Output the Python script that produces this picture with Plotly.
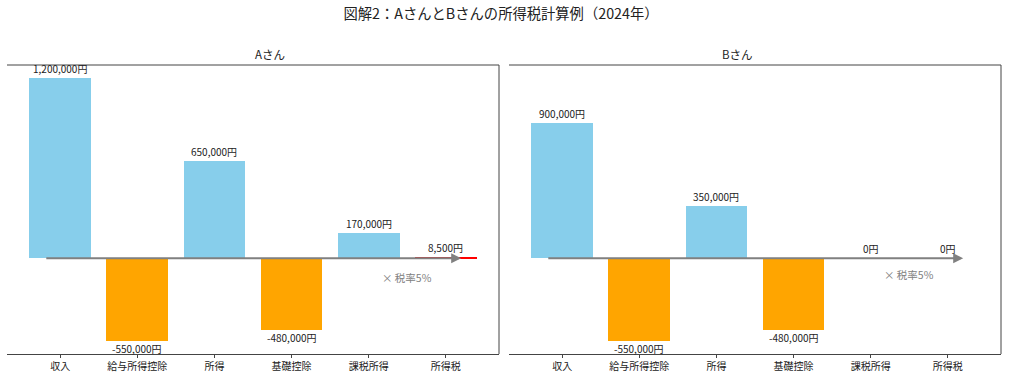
import plotly.graph_objects as go
from plotly.subplots import make_subplots

categories = ["収入", "給与所得控除", "所得", "基礎控除", "課税所得", "所得税"]
values_a = [1200000, -550000, 650000, -480000, 170000, 8500]
values_b = [900000, -550000, 350000, -480000, 0, 0]
bar_kinds = ["in", "ded", "in", "ded", "in", "tax"]
panel_titles = ["Aさん", "Bさん"]
title = "図解2：AさんとBさんの所得税計算例（2024年）"
rate_note = "× 税率5%"

FONT = "Noto Sans CJK JP"
color_map = {"in": "#87CEEB", "ded": "#FFA500", "tax": "#FF0000"}

W, H = 1009, 376


def px_x(X):
    return X / W


def px_y(Y):
    return 1 - Y / H


fig = make_subplots(rows=1, cols=2, horizontal_spacing=0.01)

xdom = [[px_x(7), px_x(499)], [px_x(509), px_x(1001)]]
xranges = [[-0.69, 5.69], [-0.69, 5.69]]
ydom = [px_y(354), px_y(65)]
yrange = [-637500, 1287500]
note_y = [-125000, -105000]

for i, vals in enumerate([values_a, values_b]):
    col = i + 1
    xs = list(range(len(categories)))
    fig.add_trace(
        go.Bar(
            x=xs, y=vals, width=0.8,
            marker=dict(color=[color_map[k] for k in bar_kinds], line=dict(width=0)),
            showlegend=False, hoverinfo="skip",
        ),
        row=1, col=col,
    )
    xa = "x" if i == 0 else "x2"
    ya = "y" if i == 0 else "y2"
    for x, v in zip(xs, vals):
        fig.add_annotation(
            x=x, y=v, xref=xa, yref=ya,
            text=f"{v:,}円", showarrow=False,
            yanchor="top" if v < 0 else "bottom",
            yshift=2 if v < 0 else 0,
            font=dict(family=FONT, size=10, color="#222222"),
        )
    # arrow along zero
    fig.add_annotation(
        x=5.2, y=0, ax=-0.2, ay=0, xref=xa, yref=ya, axref=xa, ayref=ya,
        text="", showarrow=True, arrowhead=2, arrowsize=1.0, arrowwidth=2,
        arrowcolor="gray", standoff=0,
    )
    fig.add_annotation(
        x=4.5, y=note_y[i], xref=xa, yref=ya, text=rate_note, showarrow=False,
        font=dict(family=FONT, size=10.5, color="gray"),
    )
    # subplot title
    fig.add_annotation(
        x=(xdom[i][0] + xdom[i][1]) / 2, y=ydom[1], xref="paper", yref="paper",
        text=panel_titles[i], showarrow=False, yanchor="bottom", yshift=1,
        font=dict(family=FONT, size=11.5, color="#222222"),
    )
    axis_x = dict(
        domain=xdom[i], range=xranges[i], tickmode="array", tickvals=xs, ticktext=categories,
        showline=True, linecolor="#444444", linewidth=1, mirror=False,
        ticks="outside", ticklen=3, tickcolor="#444444",
        showgrid=False, zeroline=False, automargin=False,
        tickfont=dict(family=FONT, size=10, color="#222222"),
    )
    axis_y = dict(
        domain=ydom, range=yrange, showticklabels=False, ticks="",
        showgrid=False, zeroline=False, showline=False, automargin=False,
    )
    if i == 0:
        fig.update_layout(xaxis=axis_x, yaxis=axis_y)
    else:
        fig.update_layout(xaxis2=axis_x, yaxis2=axis_y)

    # top and right spines
    x0p, x1p = xdom[i]
    fig.add_shape(type="line", xref="paper", yref="paper", x0=x0p, x1=x1p, y0=ydom[1], y1=ydom[1],
                  line=dict(color="#444444", width=1))
    fig.add_shape(type="line", xref="paper", yref="paper", x0=x1p, x1=x1p, y0=ydom[0], y1=ydom[1],
                  line=dict(color="#444444", width=1))

fig.update_layout(
    width=W, height=H,
    margin=dict(l=0, r=0, t=0, b=0, autoexpand=False),
    paper_bgcolor="white", plot_bgcolor="white",
    bargap=0,
    title=dict(text=title, x=px_x(501), xanchor="center", y=px_y(14), yanchor="middle",
               font=dict(family=FONT, size=14.3, color="#222222")),
    font=dict(family=FONT),
)

fig.write_html(
    "out.html",
    config={"displayModeBar": False},
    post_script="document.body.style.margin='0px';document.body.style.overflow='hidden';",
)
